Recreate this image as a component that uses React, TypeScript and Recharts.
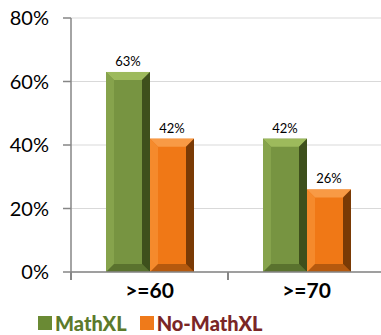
import React from 'react';
import { BarChart, Bar, XAxis, YAxis, CartesianGrid, LabelList } from 'recharts';

const categories = ['>=60', '>=70'];
const mathxl = [63, 42];
const noMathxl = [42, 26];
const yTicks = [0, 20, 40, 60, 80];

const data = categories.map((c, i) => ({ name: c, mathxl: mathxl[i], noMathxl: noMathxl[i] }));

const FONT = 'Lato, "Open Sans", sans-serif';
const X_MARGIN = 8;

// Bevelled bar shape, like the office chart style
const bevel = (colors: { main: string; top: string; side: string; edge: string }) => (props: any) => {
  const { x, y, width, height } = props;
  const b = Math.min(8, height / 2);
  return (
    <g>
      <rect x={x} y={y} width={width} height={height} fill={colors.main} />
      <polygon points={`${x},${y} ${x + width},${y} ${x + width - b},${y + b} ${x + b},${y + b}`} fill={colors.top} />
      <polygon points={`${x + width},${y} ${x + width},${y + height} ${x + width - b},${y + height - b} ${x + width - b},${y + b}`} fill={colors.side} />
      <polygon points={`${x},${y} ${x + b},${y + b} ${x + b},${y + height - b} ${x},${y + height}`} fill={colors.edge} />
      <polygon points={`${x},${y + height} ${x + width},${y + height} ${x + width - b},${y + height - b} ${x + b},${y + height - b}`} fill={colors.side} opacity={0.5} />
    </g>
  );
};

const greenShape = bevel({ main: '#779441', top: '#9dba5c', side: '#3e501c', edge: '#86a34c' });
const orangeShape = bevel({ main: '#f07816', top: '#f89a45', side: '#7a3a05', edge: '#f58a2c' });

// category label plus tick marks at the band edges
const CatTick = (props: any) => {
  const { x, y, payload, index, visibleTicksCount } = props;
  const off = payload.offset || 0;
  const axisY = y - X_MARGIN;
  return (
    <g>
      <line x1={x - off} x2={x - off} y1={axisY} y2={axisY + 8} stroke="#868686" strokeWidth={2} />
      {index === visibleTicksCount - 1 && (
        <line x1={x + off} x2={x + off} y1={axisY} y2={axisY + 8} stroke="#868686" strokeWidth={2} />
      )}
      <text x={x} y={y + 18} textAnchor="middle" fill="#000" fontSize={21} fontWeight={700} fontFamily={FONT}>
        {payload.value}
      </text>
    </g>
  );
};

const Legend = () => (
  <div style={{ position: 'absolute', left: 38, top: 311, display: 'flex', alignItems: 'center', fontFamily: FONT, fontWeight: 900, fontSize: 20 }}>
    <span style={{ width: 14, height: 14, background: '#6a8a34', marginRight: 3, display: 'inline-block' }} />
    <span style={{ color: '#5c7a2b' }}>MathXL</span>
    <span style={{ width: 14, height: 14, background: '#ef7a1a', marginLeft: 13, marginRight: 3, display: 'inline-block' }} />
    <span style={{ color: '#7a2626' }}>No-MathXL</span>
  </div>
);

export default function App() {
  return (
    <div style={{ position: 'absolute', left: 0, top: 0, width: 381, height: 335, overflow: 'hidden', background: '#fff' }}>
      <BarChart
        width={386}
        height={335}
        data={data}
        margin={{ top: 18, right: 1, left: 0, bottom: 23 }}
        barGap={0}
        barSize={44}
      >
        <CartesianGrid vertical={false} stroke="#d9d9d9" />
        <YAxis
          domain={[0, 80]}
          ticks={yTicks}
          tickFormatter={(v) => `${v}%`}
          width={71}
          stroke="#868686"
          strokeWidth={1.5}
          tickSize={8}
          tickMargin={14}
          tick={{ fill: '#000', fontSize: 20, fontFamily: FONT }}
          interval={0}
        />
        <XAxis
          dataKey="name"
          stroke="#868686"
          strokeWidth={1.5}
          tickLine={false}
          tickSize={0}
          tickMargin={X_MARGIN}
          height={40}
          tick={<CatTick />}
          interval={0}
        />
        <Bar dataKey="mathxl" shape={greenShape} isAnimationActive={false}>
          <LabelList dataKey="mathxl" position="top" offset={6} formatter={(v: any) => `${v}%`} style={{ fill: '#000', fontSize: 13, fontFamily: FONT }} />
        </Bar>
        <Bar dataKey="noMathxl" shape={orangeShape} isAnimationActive={false}>
          <LabelList dataKey="noMathxl" position="top" offset={6} formatter={(v: any) => `${v}%`} style={{ fill: '#000', fontSize: 13, fontFamily: FONT }} />
        </Bar>
      </BarChart>
      <Legend />
    </div>
  );
}
